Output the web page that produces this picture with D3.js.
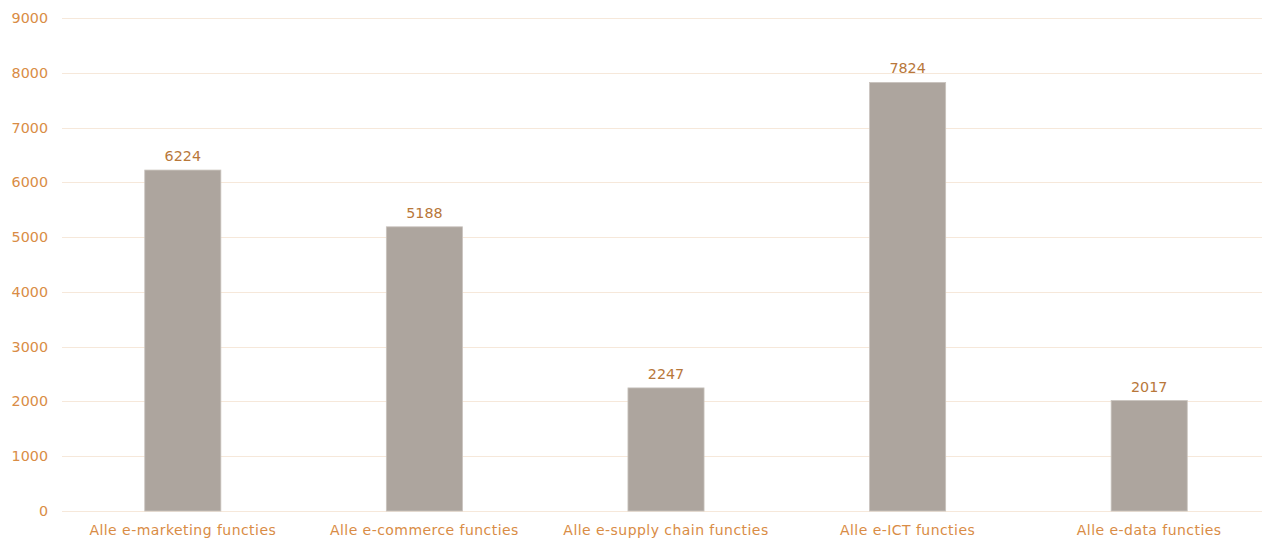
<!DOCTYPE html>
<html><head><meta charset="utf-8">
<script src="https://cdn.jsdelivr.net/npm/d3@7"></script>
<style>body{margin:0;background:#fff;}svg{display:block;font-family:"DejaVu Sans",Verdana,sans-serif;}</style>
</head><body>
<svg id="c" width="1262" height="538"></svg>
<script>
const categories = ["Alle e-marketing functies","Alle e-commerce functies","Alle e-supply chain functies","Alle e-ICT functies","Alle e-data functies"];
const values = [6224, 5188, 2247, 7824, 2017];
const yTicks = [0,1000,2000,3000,4000,5000,6000,7000,8000,9000];

const svg = d3.select("#c");
const x = d3.scaleBand().domain(categories).range([62, 1270]).paddingInner(0.685).paddingOuter(0.3425);
const y = d3.scaleLinear().domain([0, 9000]).range([511, 18]);

svg.append("g").selectAll("line").data(yTicks).join("line")
  .attr("x1", 62).attr("x2", 1262)
  .attr("y1", d => Math.round(y(d)) + 0.5).attr("y2", d => Math.round(y(d)) + 0.5)
  .attr("stroke", "#f6e8da").attr("stroke-width", 1);

svg.append("g").selectAll("text").data(yTicks).join("text")
  .attr("x", 48).attr("y", d => y(d) + 5)
  .attr("text-anchor", "end").attr("font-size", 14.3).attr("fill", "#d98c45")
  .text(d => d);

svg.append("g").selectAll("rect").data(values).join("rect")
  .attr("x", (d,i) => x(categories[i])).attr("width", x.bandwidth())
  .attr("y", d => y(d)).attr("height", d => y(0) - y(d))
  .attr("fill", "#ada59e").attr("stroke", "#c9c3bd").attr("stroke-width", 0.8);

svg.append("g").selectAll("text").data(values).join("text")
  .attr("x", (d,i) => x(categories[i]) + x.bandwidth()/2).attr("y", d => y(d) - 9)
  .attr("text-anchor", "middle").attr("font-size", 14.3).attr("fill", "#b8773a")
  .text(d => d);

svg.append("g").selectAll("text").data(categories).join("text")
  .attr("x", d => x(d) + x.bandwidth()/2).attr("y", 535)
  .attr("text-anchor", "middle").attr("font-size", 14).attr("letter-spacing", 0.45).attr("fill", "#d98c45")
  .text(d => d);
</script>
</body></html>
